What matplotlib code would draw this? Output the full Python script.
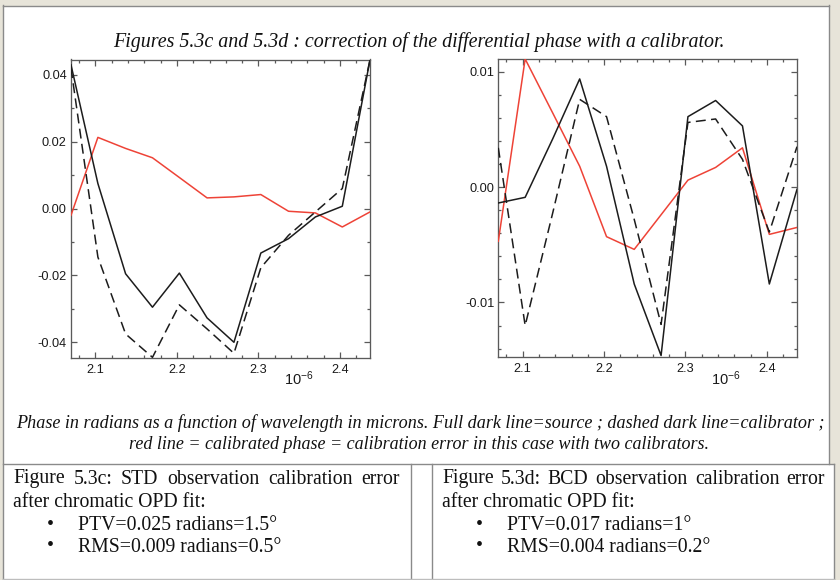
import matplotlib
matplotlib.use("Agg")
import matplotlib.pyplot as plt
from matplotlib.ticker import MultipleLocator, FormatStrFormatter
from matplotlib.patches import Rectangle

plt.rcParams['mathtext.fontset'] = 'custom'
plt.rcParams['mathtext.rm'] = 'Liberation Sans'
plt.rcParams['mathtext.it'] = 'Liberation Sans:italic'
plt.rcParams['axes.unicode_minus'] = True

# ---------------- data ----------------
wavelength_um = [2.070, 2.103, 2.137, 2.170, 2.203, 2.237,
                 2.270, 2.303, 2.337, 2.370, 2.403, 2.437]

std_source = [0.0430, 0.0075, -0.0195, -0.0295, -0.0193, -0.0327,
              -0.0400, -0.0133, -0.0090, -0.0025, 0.0007, 0.0445]
std_calibrator = [0.0420, -0.0145, -0.0375, -0.0445, -0.0288, -0.0360,
                  -0.0433, -0.0177, -0.0080, -0.0010, 0.0060, 0.0445]
std_calibrated = [-0.0020, 0.0213, 0.0180, 0.0152, 0.0093, 0.0032,
                  0.0035, 0.0042, -0.0008, -0.0013, -0.0055, -0.0010]

bcd_source = [-0.00138, -0.00089, 0.0042, 0.00937, 0.0018, -0.0084,
              -0.0146, 0.0061, 0.0075, 0.0053, -0.0084, -0.0002]
bcd_calibrator = [0.0034, -0.0120, -0.0022, 0.0076, 0.0061, -0.0028,
                  -0.0119, 0.0056, 0.0059, 0.0024, -0.0039, 0.0035]
bcd_calibrated = [-0.0047, 0.0111, 0.0064, 0.0018, -0.0043, -0.0054,
                  -0.0024, 0.0006, 0.0017, 0.0034, -0.0041, -0.0035]

title_text = "Figures 5.3c and 5.3d : correction of the differential phase with a calibrator."
caption_1 = ("Phase in radians as a function of wavelength in microns. Full dark line=source ; "
             "dashed dark line=calibrator ;")
caption_2 = "red line = calibrated phase = calibration error in this case with two calibrators."
left_cell = ["Figure 5.3c: STD observation calibration error", "after chromatic OPD fit:",
             "PTV=0.025 radians=1.5°", "RMS=0.009 radians=0.5°"]
right_cell = ["Figure 5.3d: BCD observation calibration error", "after chromatic OPD fit:",
              "PTV=0.017 radians=1°", "RMS=0.004 radians=0.2°"]
offset_label = r"$10^{-6}$"

# ---------------- figure ----------------
W, H = 840, 580
fig = plt.figure(figsize=(W / 100, H / 100), dpi=100, facecolor='#e7e4d9')

ov = fig.add_axes([0, 0, 1, 1], zorder=-5)
ov.set_xlim(0, W)
ov.set_ylim(H, 0)
ov.axis('off')

# page & borders
ov.add_patch(Rectangle((3, 5.5), 826, 460, facecolor='white', edgecolor='none'))
ov.add_patch(Rectangle((3, 464), 831, 116, facecolor='white', edgecolor='none'))
bc = '#8a8a8a'
ov.plot([3, 3], [5, 580], color=bc, lw=1.0)
ov.plot([3, 829], [5.5, 5.5], color=bc, lw=1.0)
ov.plot([829, 829], [5, 464], color=bc, lw=1.0)
ov.plot([834, 834], [464, 580], color=bc, lw=1.0)
ov.plot([3, 834], [464, 464], color=bc, lw=1.0)
ov.plot([411, 411], [464, 580], color=bc, lw=1.0)
ov.plot([431.5, 431.5], [464, 580], color=bc, lw=1.0)
ov.plot([3, 834], [578.5, 578.5], color='#bdbdbd', lw=1.0)

fig.canvas.draw()
renderer = fig.canvas.get_renderer()


def width_of(s, size, **kw):
    t = ov.text(0, 0, s, fontsize=size, **kw)
    w = t.get_window_extent(renderer).width
    t.remove()
    return w


def fit(s, target, **kw):
    return 20 * target / width_of(s, 20, **kw)


serif = dict(family='Liberation Serif')
serif_it = dict(family='Liberation Serif', style='italic')

# title
ts = fit(title_text, 612, **serif_it)
ov.text(419, 47, title_text, fontsize=ts, ha='center', va='baseline', color='#111', **serif_it)

# caption
c1 = fit(caption_1, 808, **serif_it)
c2 = fit(caption_2, 582, **serif_it)
ov.text(420, 428, caption_1, fontsize=c1, ha='center', va='baseline', color='#111', **serif_it)
ov.text(419, 449, caption_2, fontsize=c2, ha='center', va='baseline', color='#111', **serif_it)

# table text
tsz = fit(right_cell[3], 203, **serif)


def justify(line, x0, x1, y):
    words = line.split()
    ws = [width_of(w, tsz, **serif) for w in words]
    gap = (x1 - x0 - sum(ws)) / (len(words) - 1)
    x = x0
    for w, wd in zip(words, ws):
        ov.text(x, y, w, fontsize=tsz, ha='left', va='baseline', color='#111', **serif)
        x += wd + gap


for cell, x0, x1 in ((left_cell, 13, 400), (right_cell, 442, 825)):
    justify(cell[0], x0, x1, 483.5)
    ov.text(x0, 507, cell[1], fontsize=tsz, ha='left', va='baseline', color='#111', **serif)
    for yb, line in ((530, cell[2]), (551.5, cell[3])):
        ov.text(x0 + 37, yb, "\u2022", fontsize=tsz, ha='center', va='baseline', color='#111', **serif)
        ov.text(x0 + 65, yb, line, fontsize=tsz, ha='left', va='baseline', color='#111', **serif)

# ---------------- plots ----------------
black = '#1c1c1c'
red = '#ee4337'
spine_c = '#5a5a5a'


def make_axes(rect, src, cal, res, ylim, ymaj, ymin):
    ax = fig.add_axes(rect, zorder=2)
    ax.plot(wavelength_um, res, color=red, lw=1.1, zorder=3)
    ax.plot(wavelength_um, cal, color=black, lw=1.1, dashes=(6.5, 3.5), zorder=4)
    ax.plot(wavelength_um, src, color=black, lw=1.1, zorder=5)
    ax.set_xlim(2.0700, 2.4370)
    ax.set_ylim(*ylim)
    ax.xaxis.set_major_locator(MultipleLocator(0.1))
    ax.xaxis.set_minor_locator(MultipleLocator(0.02))
    ax.yaxis.set_major_locator(MultipleLocator(ymaj))
    ax.yaxis.set_minor_locator(MultipleLocator(ymin))
    ax.xaxis.set_major_formatter(FormatStrFormatter('%.1f'))
    ax.yaxis.set_major_formatter(FormatStrFormatter('%.2f'))
    for s in ax.spines.values():
        s.set_color(spine_c)
        s.set_linewidth(0.95)
    ax.tick_params(which='both', direction='in', top=True, right=True,
                   color=spine_c, width=0.9, labelcolor='#1a1a1a')
    ax.tick_params(which='major', length=4.5)
    ax.tick_params(which='minor', length=2.4)
    ax.tick_params(axis='x', which='major', pad=4.5, labelsize=9.2)
    ax.tick_params(axis='y', which='major', pad=3, labelsize=9.2)
    for lab in ax.get_xticklabels() + ax.get_yticklabels():
        lab.set_family('Liberation Sans')
    return ax


axL = make_axes([71 / W, 1 - 358 / H, 299 / W, 298.5 / H],
                std_source, std_calibrator, std_calibrated,
                (-0.0447, 0.0446), 0.02, 0.01)
axR = make_axes([498.3 / W, 1 - 356.7 / H, 298.7 / W, 298.2 / H],
                bcd_source, bcd_calibrator, bcd_calibrated,
                (-0.0147, 0.01114), 0.01, 0.002)

ov.text(299, 385.5, offset_label, fontsize=10.5, ha='center', va='baseline', color='#1a1a1a')
ov.text(726, 384.5, offset_label, fontsize=10.5, ha='center', va='baseline', color='#1a1a1a')

fig.savefig('out.png', dpi=100, facecolor=fig.get_facecolor())
